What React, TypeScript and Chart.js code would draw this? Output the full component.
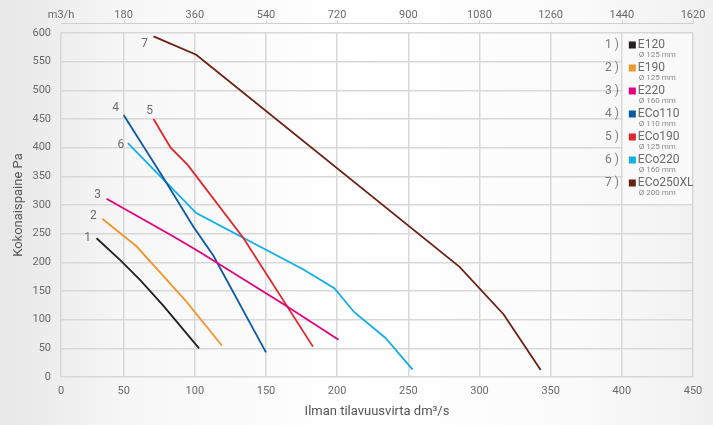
import React, { useEffect, useRef } from "react";
import { Chart, registerables } from "chart.js";

Chart.register(...registerables);

// ---- axes ----
const X_MIN = 6; // left edge of the plot (labelled "0" in the source picture)
const X_MAX = 450;
const xTickValues = [X_MIN, 50, 100, 150, 200, 250, 300, 350, 400, 450];
const xTickLabels = ["0", "50", "100", "150", "200", "250", "300", "350", "400", "450"];
const m3hTickLabels = ["m3/h", "180", "360", "540", "720", "900", "1080", "1260", "1440", "1620"];
const Y_MIN = 0;
const Y_MAX = 600;
const Y_STEP = 50;

// ---- series meta ----
const seriesNumbers = ["1", "2", "3", "4", "5", "6", "7"];
const seriesNames = ["E120", "E190", "E220", "ECo110", "ECo190", "ECo220", "ECo250XL"];
const seriesDiameters = ["Ø 125 mm", "Ø 125 mm", "Ø 160 mm", "Ø 110 mm", "Ø 125 mm", "Ø 160 mm", "Ø 200 mm"];
const seriesColors = ["#231f20", "#f0962e", "#e6007e", "#0a5aa5", "#e3242b", "#12aee6", "#6b2112"];

// ---- series values (x: dm3/s, y: Pa) ----
const e120X = [31, 48, 62, 78, 103];
const e120Y = [242, 203, 168, 124, 50];
const e190X = [35, 59, 94, 119];
const e190Y = [276, 228, 132, 55];
const e220X = [38, 85, 104, 163, 201];
const e220Y = [311, 245, 217, 126, 65];
const eco110X = [50, 78, 99, 113, 150];
const eco110Y = [457, 347, 262, 212, 43];
const eco190X = [71, 83, 95, 134, 183];
const eco190Y = [450, 400, 370, 243, 53];
const eco220X = [53, 101, 176, 198, 212, 234, 253];
const eco220Y = [408, 286, 188, 155, 113, 68, 13];
const eco250X = [71, 101, 286, 317, 343];
const eco250Y = [594, 562, 192, 109, 12];

const seriesX = [e120X, e190X, e220X, eco110X, eco190X, eco220X, eco250X];
const seriesY = [e120Y, e190Y, e220Y, eco110Y, eco190Y, eco220Y, eco250Y];

// label offsets (px) of the curve numbers relative to each curve's first point
const numberOffsets = [
  [-9, 0],
  [-9, -3],
  [-9, -4],
  [-8, -7],
  [-4, -8],
  [-7, 2],
  [-9, 8],
];

const GRID = "#d8d8d8";
const TEXT = "#6a6a6a";
const FONT = "Roboto";

const decorPlugin = {
  id: "decor",
  beforeDatasetsDraw(chart: any) {
    const { ctx, chartArea, scales } = chart;
    const px = scales.x.getPixelForValue(400);
    const py = scales.y.getPixelForValue(300);
    ctx.save();
    ctx.fillStyle = "#f9f9f9";
    ctx.fillRect(px + 1, chartArea.top + 1, chartArea.right - px - 2, py - chartArea.top - 2);
    ctx.restore();
  },
  afterDraw(chart: any) {
    const { ctx, chartArea, scales } = chart;
    ctx.save();
    // top (m3/h) axis line and small marks
    const ly = Math.round(chartArea.top - 10) + 0.5;
    ctx.strokeStyle = "#cfcfcf";
    ctx.lineWidth = 1;
    ctx.beginPath();
    ctx.moveTo(chartArea.left, ly);
    ctx.lineTo(chartArea.right, ly);
    xTickValues.forEach((v, i) => {
      if (i === 0) return;
      const x = Math.round(scales.x.getPixelForValue(v)) + 0.5;
      ctx.moveTo(x, ly - 3);
      ctx.lineTo(x, ly);
    });
    ctx.stroke();

    // curve numbers
    ctx.fillStyle = TEXT;
    ctx.font = `12px ${FONT}`;
    ctx.textAlign = "center";
    ctx.textBaseline = "middle";
    seriesNumbers.forEach((n, i) => {
      const x = scales.x.getPixelForValue(seriesX[i][0]);
      const y = scales.y.getPixelForValue(seriesY[i][0]);
      ctx.fillText(n, x + numberOffsets[i][0], y + numberOffsets[i][1]);
    });

    // legend panel
    const left = scales.x.getPixelForValue(400);
    seriesNames.forEach((name, i) => {
      const cy = chartArea.top + 12 + i * 23;
      ctx.fillStyle = "#7a7a7a";
      ctx.font = `12px ${FONT}`;
      ctx.textAlign = "right";
      ctx.textBaseline = "middle";
      ctx.fillText(seriesNumbers[i] + " )", left - 3, cy);
      ctx.fillStyle = seriesColors[i];
      ctx.fillRect(left + 7, cy - 3.5, 7, 7);
      ctx.fillStyle = "#6a6a6a";
      ctx.textAlign = "left";
      ctx.font = `12px ${FONT}`;
      ctx.fillText(name, left + 16, cy);
      ctx.font = `8px ${FONT}`;
      ctx.fillStyle = "#8a8a8a";
      ctx.fillText(seriesDiameters[i], left + 17, cy + 10);
    });
    ctx.restore();
  },
};

export default function App() {
  const ref = useRef<HTMLCanvasElement | null>(null);

  useEffect(() => {
    if (!ref.current) return;
    const setTicks = (s: any) => {
      s.ticks = xTickValues.map((value) => ({ value }));
    };
    const fitH = (h: number) => (s: any) => {
      s.height = h;
      s.paddingLeft = 0;
      s.paddingRight = 0;
    };
    const chart = new Chart(ref.current, {
      type: "line",
      data: {
        datasets: seriesNames.map((name, i) => ({
          label: name,
          data: seriesX[i].map((x, j) => ({ x, y: seriesY[i][j] })),
          borderColor: seriesColors[i],
          backgroundColor: seriesColors[i],
          borderWidth: 1.8,
          pointRadius: 0,
          tension: 0,
          fill: false,
          xAxisID: "x",
          yAxisID: "y",
        })),
      },
      options: {
        animation: false,
        responsive: false,
        layout: { padding: { left: 0, right: 20, top: 0, bottom: 0 } },
        plugins: { legend: { display: false }, tooltip: { enabled: false } },
        scales: {
          x: {
            type: "linear",
            position: "bottom",
            min: X_MIN,
            max: X_MAX,
            afterBuildTicks: setTicks,
            afterFit: fitH(48),
            ticks: {
              callback: (_v: any, i: number) => xTickLabels[i],
              padding: 8,
              color: TEXT,
              font: { family: FONT, size: 11 },
              maxRotation: 0,
              autoSkip: false,
            },
            grid: { color: GRID, lineWidth: 1.5, drawTicks: false },
            border: { display: false },
            title: {
              display: true,
              text: "Ilman tilavuusvirta dm³/s",
              color: "#555",
              font: { family: FONT, size: 13 },
              padding: { top: 0, bottom: 5 },
            },
          },
          x2: {
            type: "linear",
            position: "top",
            min: X_MIN,
            max: X_MAX,
            afterBuildTicks: setTicks,
            afterFit: fitH(33),
            ticks: {
              callback: (_v: any, i: number) => m3hTickLabels[i],
              padding: 11,
              color: TEXT,
              font: { family: FONT, size: 11 },
              maxRotation: 0,
              autoSkip: false,
            },
            grid: { display: false, drawTicks: false },
            border: { display: false },
          },
          y: {
            type: "linear",
            min: Y_MIN,
            max: Y_MAX,
            afterFit: (s: any) => {
              s.width = 61;
            },
            ticks: {
              stepSize: Y_STEP,
              padding: 10,
              color: TEXT,
              font: { family: FONT, size: 11 },
            },
            grid: { color: GRID, lineWidth: 1.5, drawTicks: false },
            border: { display: false },
            title: {
              display: true,
              text: "Kokonaispaine Pa",
              color: "#555",
              font: { family: FONT, size: 13 },
              padding: { top: 11, bottom: 0 },
            },
          },
        },
      } as any,
      plugins: [decorPlugin],
    });
    return () => chart.destroy();
  }, []);

  return (
    <div
      style={{
        position: "fixed",
        left: 0,
        top: 0,
        width: 713,
        height: 425,
        background:
          "linear-gradient(90deg, #e7e7e7 0%, #f7f7f7 18%, #ffffff 50%, #fbfbfb 80%, #f0f0f0 100%)",
      }}
    >
      <canvas ref={ref} width={713} height={425} style={{ width: 713, height: 425, display: "block" }} />
    </div>
  );
}
